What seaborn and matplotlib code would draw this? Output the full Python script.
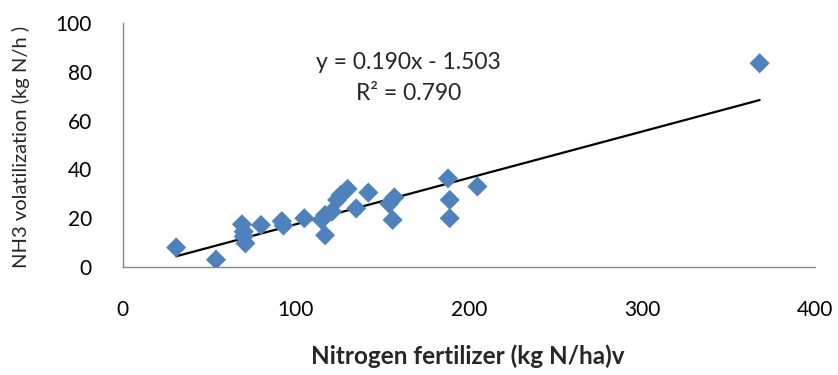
import matplotlib
matplotlib.use("Agg")
import matplotlib.pyplot as plt
import seaborn as sns
import numpy as np
import pandas as pd

# Data
nitrogen = [31, 54, 69, 70, 70, 71, 80, 92, 93, 105, 115, 117, 117, 121, 124,
            126, 130, 135, 142, 154, 156, 157, 188, 189, 189, 205, 368]
nh3 = [8, 3, 17.5, 14.5, 12.5, 9.7, 17.2, 18.8, 17, 20, 19.3, 13, 21.3, 22.7,
       27.5, 29.5, 32, 24, 30.5, 26, 19.3, 28.5, 36.3, 27.5, 20, 33, 83.5]
slope = 0.190
intercept = -1.503
r2 = 0.790
x_ticks = [0, 100, 200, 300, 400]
y_ticks = [0, 20, 40, 60, 80, 100]

df = pd.DataFrame({"x": nitrogen, "y": nh3})
xr = np.array([min(nitrogen), max(nitrogen)])
trend = pd.DataFrame({"x": xr, "y": slope * xr + intercept})

sns.set_theme(style="white")
plt.rcParams["font.family"] = ["Lato", "DejaVu Sans"]

fig = plt.figure(figsize=(8.38, 3.75), dpi=100)
ax = fig.add_axes([0.1462, 0.288, 0.8264, 0.6507])

sns.lineplot(data=trend, x="x", y="y", color="black", linewidth=1.6, ax=ax)
sns.scatterplot(data=df, x="x", y="y", marker="D", s=105, color="#4F81BD",
                edgecolor="none", ax=ax, zorder=3)

ax.set_xlim(0, 400)
ax.set_ylim(0, 100)
ax.set_xticks(x_ticks)
ax.set_yticks(y_ticks)
ax.tick_params(axis="both", labelsize=15, colors="#868686", length=6,
               width=1, direction="out", labelcolor="black")
ax.tick_params(axis="y", pad=16)
ax.tick_params(axis="x", pad=18)
for s in ["top", "right"]:
    ax.spines[s].set_visible(False)
for s in ["left", "bottom"]:
    ax.spines[s].set_color("#868686")
    ax.spines[s].set_linewidth(1)

ax.set_xlabel("Nitrogen fertilizer (kg N/ha)v", fontsize=17.5,
              fontweight="bold")
ax.set_ylabel("NH3 volatilization (kg N/h )", fontsize=14.5)
ax.xaxis.set_label_coords(0.4986, -0.318)
ax.yaxis.set_label_coords(-0.134, 0.49)

ax.text(165, 77.5, f"y = {slope:.3f}x - {abs(intercept):.3f}\nR² = {r2:.3f}",
        ha="center", va="center", fontsize=16.5, linespacing=1.55)

fig.savefig("out.png", dpi=100)
